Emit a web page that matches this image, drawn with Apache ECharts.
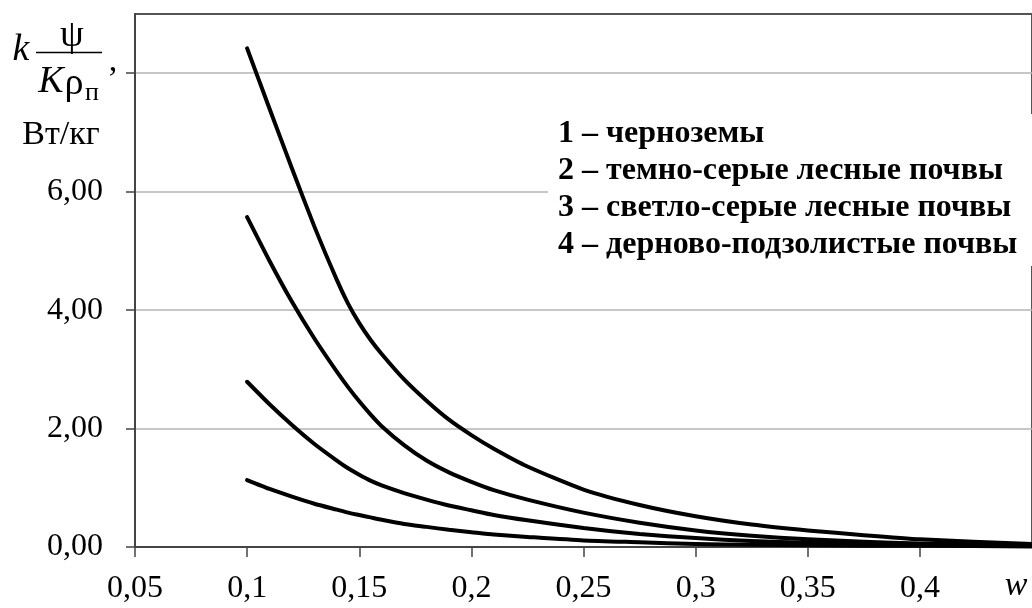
<!DOCTYPE html>
<html>
<head>
<meta charset="utf-8">
<script src="https://cdn.jsdelivr.net/npm/echarts@6/dist/echarts.min.js"></script>
<style>
  html, body { margin: 0; padding: 0; background: #fff; }
  #chart { width: 1032px; height: 608px; }
</style>
</head>
<body>
<div id="chart"></div>
<script>
// Moisture values w (x axis)
var moisture = [0.1, 0.11, 0.12, 0.13, 0.14, 0.145, 0.15, 0.155, 0.16, 0.17, 0.18, 0.19,
                0.2, 0.21, 0.225, 0.25, 0.275, 0.3, 0.325, 0.35, 0.375, 0.4, 0.45];

// k·ψ/(K·ρп), Вт/кг for each soil type
var chernozem   = [8.42, 7.40, 6.39, 5.41, 4.51, 4.11, 3.78, 3.50, 3.26, 2.83, 2.47, 2.15,
                   1.89, 1.66, 1.36, 0.97, 0.71, 0.52, 0.38, 0.28, 0.20, 0.13, 0.05];
var darkGrey    = [5.57, 4.83, 4.14, 3.52, 2.96, 2.70, 2.46, 2.24, 2.04, 1.72, 1.46, 1.26,
                   1.10, 0.96, 0.80, 0.58, 0.41, 0.28, 0.19, 0.13, 0.09, 0.06, 0.03];
var lightGrey   = [2.79, 2.41, 2.06, 1.74, 1.46, 1.33, 1.22, 1.12, 1.04, 0.91, 0.80, 0.70,
                   0.62, 0.54, 0.45, 0.32, 0.22, 0.15, 0.10, 0.07, 0.05, 0.04, 0.02];
var sodPodzolic = [1.13, 0.98, 0.85, 0.73, 0.63, 0.58, 0.54, 0.50, 0.46, 0.39, 0.34, 0.29,
                   0.25, 0.21, 0.17, 0.11, 0.08, 0.05, 0.04, 0.03, 0.02, 0.02, 0.01];

var curveNumbers = ['1', '2', '3', '4'];
var legendLines = [
  '1 – черноземы',
  '2 – темно-серые лесные почвы',
  '3 – светло-серые лесные почвы',
  '4 – дерново-подзолистые почвы'
];

var xTicks = [0.05, 0.1, 0.15, 0.2, 0.25, 0.3, 0.35, 0.4];
var yLabelTicks = [0, 2, 4, 6];
var yTickMarks = [0, 2, 4, 6, 8];

var SERIF = '"Liberation Serif", "DejaVu Serif", serif';

function pairs(ys) {
  return ys.map(function (y, i) { return [moisture[i], y]; });
}

// one curve; its number sits to the left of the first point
function makeSeries(ys, idx, offsetY) {
  var data = pairs(ys);
  data[0] = {
    value: data[0],
    label: {
      show: true,
      formatter: curveNumbers[idx],
      position: 'left',
      distance: 36,
      offset: [0, offsetY],
      color: '#111',
      fontFamily: SERIF,
      fontWeight: 'bold',
      fontSize: 30
    }
  };
  return {
    type: 'line',
    data: data,
    smooth: 0.2,
    showSymbol: false,
    symbol: 'none',
    lineStyle: { color: '#000', width: 4, cap: 'round', join: 'round' },
    label: { show: false },
    animation: false,
    z: 3
  };
}

var chart = echarts.init(document.getElementById('chart'));

var legendGraphics = legendLines.map(function (t, i) {
  return {
    type: 'text',
    z: 10,
    style: {
      x: 558,
      y: 134 + i * 37,
      text: t,
      fill: '#000',
      font: 'bold 32px ' + SERIF,
      align: 'left',
      verticalAlign: 'middle'
    }
  };
});

chart.setOption({
  backgroundColor: '#fff',
  animation: false,
  grid: {
    left: 135,
    right: -2,
    top: 14,
    bottom: 61,
    show: true,
    borderColor: '#555',
    borderWidth: 2,
    backgroundColor: 'transparent'
  },
  xAxis: {
    type: 'value',
    min: 0.05,
    max: 0.45,
    interval: 0.05,
    axisLine: { show: true, lineStyle: { color: '#444', width: 2 } },
    axisTick: {
      show: true,
      length: 10,
      customValues: xTicks,
      lineStyle: { color: '#444', width: 1.5 }
    },
    splitLine: { show: false },
    axisLabel: {
      customValues: xTicks,
      margin: 26,
      color: '#000',
      fontFamily: SERIF,
      fontSize: 32,
      formatter: function (v) {
        return String(+v.toFixed(2)).replace('.', ',');
      }
    }
  },
  yAxis: {
    type: 'value',
    min: 0,
    max: 9,
    interval: 2,
    axisLine: { show: true, lineStyle: { color: '#444', width: 2 } },
    axisTick: {
      show: true,
      length: 9,
      customValues: yTickMarks,
      lineStyle: { color: '#444', width: 1.5 }
    },
    splitLine: { show: true, lineStyle: { color: '#b4b4b4', width: 1.5 } },
    axisLabel: {
      customValues: yLabelTicks,
      margin: 32,
      color: '#000',
      fontFamily: SERIF,
      fontSize: 32,
      formatter: function (v) {
        return v.toFixed(2).replace('.', ',');
      }
    }
  },
  series: [
    makeSeries(chernozem, 0, 9),
    makeSeries(darkGrey, 1, -2),
    makeSeries(lightGrey, 2, 0),
    makeSeries(sodPodzolic, 3, -6)
  ],
  graphic: [
    // white backdrop behind the legend text
    {
      type: 'rect',
      shape: { x: 548, y: 114, width: 490, height: 152 },
      style: { fill: '#fff' },
      z: 9
    }
  ].concat(legendGraphics).concat([
    // y-axis title: k · ψ / (K ρп), Вт/кг
    { type: 'text', style: { x: 21, y: 50, text: 'k', font: 'italic 38px ' + SERIF, fill: '#000', align: 'center', verticalAlign: 'middle' } },
    { type: 'text', style: { x: 72, y: 36, text: 'ψ', font: '38px ' + SERIF, fill: '#000', align: 'center', verticalAlign: 'middle' } },
    { type: 'line', shape: { x1: 36, y1: 52.5, x2: 102, y2: 52.5 }, style: { stroke: '#000', lineWidth: 1.5 } },
    { type: 'text', style: { x: 51, y: 82, text: 'K', font: 'italic 38px ' + SERIF, fill: '#000', align: 'center', verticalAlign: 'middle' } },
    { type: 'text', style: { x: 74, y: 84, text: 'ρ', font: '38px ' + SERIF, fill: '#000', align: 'center', verticalAlign: 'middle' } },
    { type: 'text', style: { x: 92, y: 93, text: 'п', font: '26px ' + SERIF, fill: '#000', align: 'center', verticalAlign: 'middle' } },
    { type: 'text', style: { x: 113, y: 62, text: ',', font: '34px ' + SERIF, fill: '#000', align: 'center', verticalAlign: 'middle' } },
    { type: 'text', style: { x: 61, y: 135, text: 'Вт/кг', font: '34px ' + SERIF, fill: '#000', align: 'center', verticalAlign: 'middle' } },
    // x-axis title
    { type: 'text', style: { x: 1016, y: 586, text: 'w', font: 'italic 34px ' + SERIF, fill: '#000', align: 'center', verticalAlign: 'middle' } }
  ])
});
</script>
</body>
</html>
